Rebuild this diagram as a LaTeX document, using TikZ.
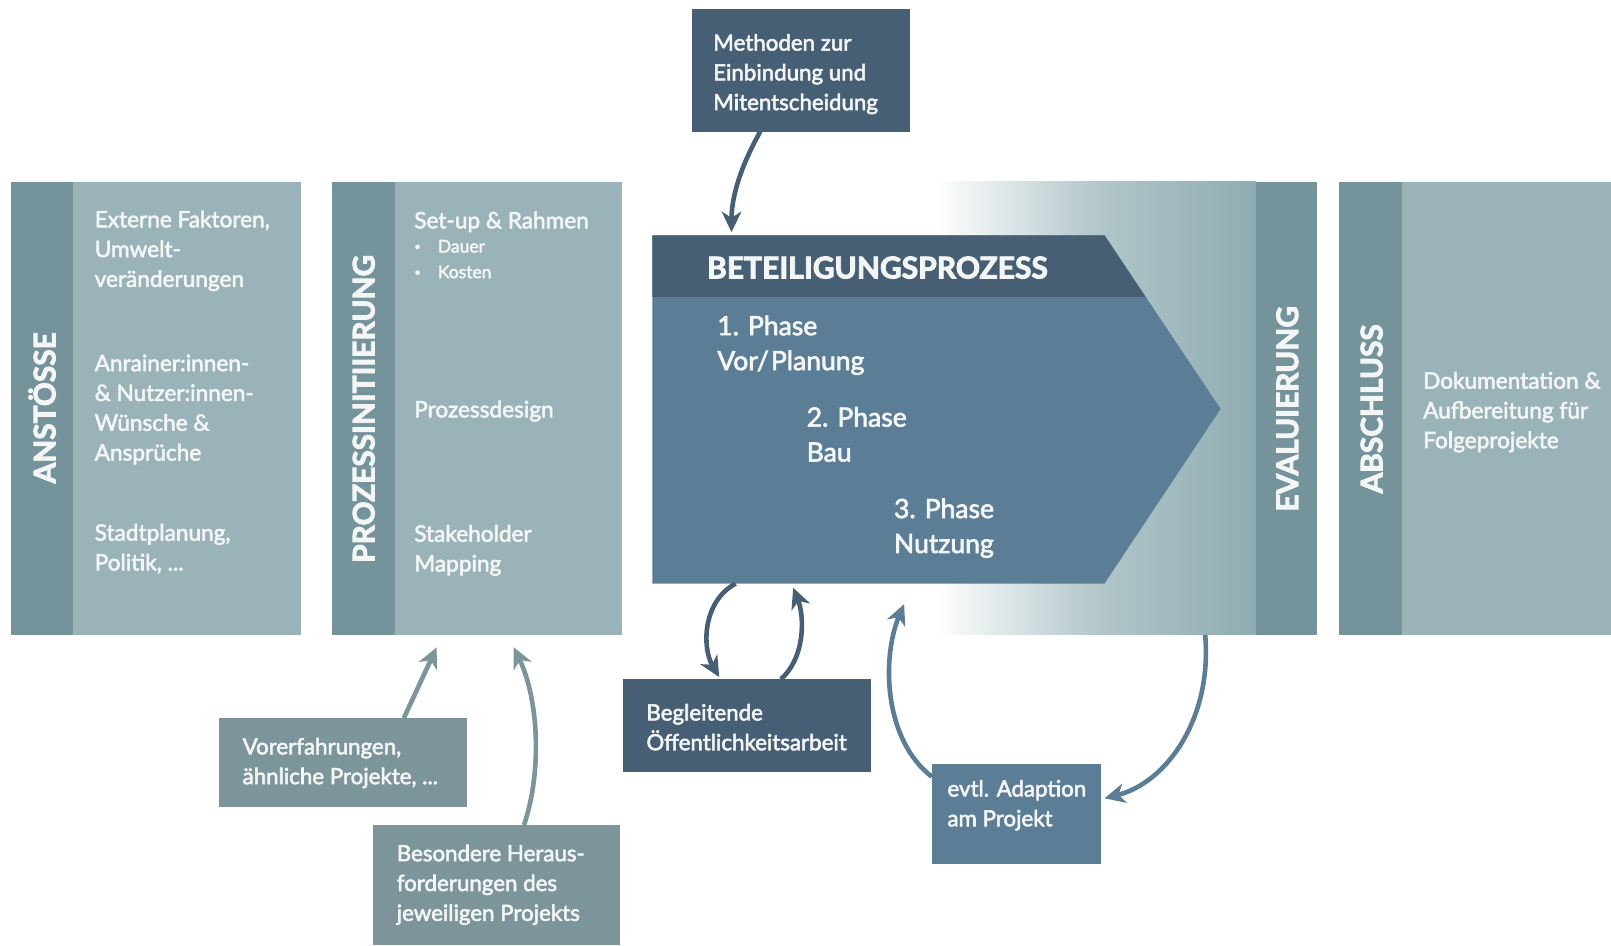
\documentclass[tikz,border=0pt]{standalone}
\usepackage{fontspec}
\setmainfont{Lato}[UprightFeatures={FakeBold=2.5}, BoldFeatures={FakeBold=3}]
\usetikzlibrary{arrows.meta}

\definecolor{panel}{HTML}{9AB3B9}
\definecolor{strip}{HTML}{74939B}
\definecolor{navy}{HTML}{465F75}
\definecolor{steel}{HTML}{5B7E96}
\definecolor{slate}{HTML}{7B959A}
\definecolor{fadeend}{HTML}{8EACB1}
\definecolor{fademid}{HTML}{B3C7CA}
\definecolor{ink}{HTML}{F4F6F6}

% white -> teal fade behind the process arrow (TikZ maps the path onto 25bp..75bp)
\pgfdeclarehorizontalshading{evalfade}{100bp}{color(0bp)=(white); color(25bp)=(white); color(50bp)=(fademid); color(75bp)=(fadeend); color(100bp)=(fadeend)}

\begin{document}
\begin{tikzpicture}[x=1pt, y=-1pt,
  block/.style={anchor=north west, inner sep=0pt, outer sep=0pt},
  bodytext/.style={anchor=north west, inner sep=0pt, align=left, text=ink, font=\fontsize{22}{29}\selectfont},
  boxtext/.style={anchor=north west, inner sep=0pt, align=left, text=ink, font=\fontsize{21.7}{29}\selectfont},
  smalltext/.style={anchor=north west, inner sep=0pt, align=left, text=ink, font=\fontsize{17}{25}\selectfont},
  phasetext/.style={anchor=north west, inner sep=0pt, align=left, text=ink, font=\fontsize{25.8}{34}\selectfont},
  vlabel/.style={rotate=90, inner sep=0pt, text=ink, font=\bfseries\fontsize{29}{30}\selectfont},
  conn/.style={line width=4.5pt, -{Stealth[length=20pt,width=19pt,inset=6pt]}},
]
\useasboundingbox (0,0) rectangle (1568,920);

% ---------- Anstoesse ----------
\node[block, fill=panel, minimum width=282, minimum height=441] (anst) at (11,177) {};
\node[block, fill=strip, minimum width=60, minimum height=441] (anststrip) at (11,177) {};
\node[vlabel] (anstlabel) at (41,397) {ANSTÖSSE};
\node[bodytext] (anstA) at (92,200.7) {\strut Externe Faktoren,\\Umwelt-\\veränderungen};
\node[bodytext] (anstB) at (92,340.7) {\strut Anrainer:innen-\\\& Nutzer:innen-\\Wünsche \&\\Ansprüche};
\node[bodytext] (anstC) at (92,505.7) {\strut Stadtplanung,\\Politik, ...};

% ---------- Prozessinitiierung ----------
\node[block, fill=panel, minimum width=282, minimum height=441] (init) at (323,177) {};
\node[block, fill=strip, minimum width=61, minimum height=441] (initstrip) at (323,177) {};
\node[vlabel] (initlabel) at (354,398) {PROZESSINITIIERUNG};
\node[bodytext] (initA) at (403,201.7) {\strut Set-up \& Rahmen};
\node[smalltext] (initB) at (403,228) {\strut\makebox[23pt][l]{\fontsize{11}{11}\selectfont\raisebox{2pt}{•}}Dauer\\\makebox[23pt][l]{\fontsize{11}{11}\selectfont\raisebox{2pt}{•}}Kosten};
\node[bodytext] (initC) at (403,385.7) {\strut Prozessdesign};
\node[bodytext] (initD) at (403,506.7) {\strut Stakeholder\\Mapping};

% ---------- Evaluierung zone with fade ----------
\shade[shading=evalfade] (910,177) rectangle (1222,618);
\node[block, minimum width=372, minimum height=441] (evalzone) at (910,177) {};
\node[block, fill=strip, minimum width=60, minimum height=441] (eval) at (1222,177) {};
\node[vlabel] (evallabel) at (1253,398) {EVALUIERUNG};

% ---------- Abschluss ----------
\node[block, fill=panel, minimum width=265, minimum height=441] (absch) at (1303,177) {};
\node[block, fill=strip, minimum width=62, minimum height=441] (abschstrip) at (1303,177) {};
\node[vlabel] (abschlabel) at (1335,398) {ABSCHLUSS};
\node[bodytext] (abschA) at (1385,357.7) {\strut Dokumentation \&\\Aufbereitung für\\Folgeprojekte};

% ---------- Beteiligungsprozess arrow ----------
\node[block, minimum width=553, minimum height=339] (bp) at (635,229) {};
\fill[steel] (635,229) -- (1075,229) -- (1188,398) -- (1075,568) -- (635,568) -- cycle;
\fill[navy] (635,229) -- (1075,229) -- (1115,289) -- (635,289) -- cycle;
\node[anchor=base west, inner sep=0pt, text=ink, font=\bfseries\fontsize{29.2}{31}\selectfont] (bptitle) at (688,271) {BETEILIGUNGSPROZESS};
\node[phasetext] (ph1) at (698,302.2) {\strut 1. Phase\\Vor/\kern2pt Planung};
\node[phasetext] (ph2) at (785,391.2) {\strut 2. Phase\\Bau};
\node[phasetext] (ph3) at (870,480.2) {\strut 3. Phase\\Nutzung};

% ---------- side boxes ----------
\node[block, fill=navy, minimum width=212, minimum height=119] (methoden) at (674,9) {};
\node[boxtext] (methodentext) at (694,28.7) {\strut Methoden zur\\Einbindung und\\Mitentscheidung};

\node[block, fill=navy, minimum width=242, minimum height=90] (begl) at (606,661) {};
\node[boxtext] (begltext) at (629,680.7) {\strut Begleitende\\Öffentlichkeitsarbeit};

\node[block, fill=slate, minimum width=242, minimum height=86] (vorerf) at (213,699) {};
\node[boxtext] (vorerftext) at (236,713.7) {\strut Vorerfahrungen,\\ähnliche Projekte, ...};

\node[block, fill=slate, minimum width=240, minimum height=117] (besond) at (363,803) {};
\node[boxtext] (besondtext) at (386,817.7) {\strut Besondere Heraus-\\forderungen des\\jeweiligen Projekts};

\node[block, fill=steel, minimum width=165, minimum height=97] (adapt) at (907,744) {};
\node[boxtext] (adapttext) at (922,754.7) {\strut evtl. Adaption\\am Projekt};

% ---------- connectors ----------
\draw[conn, navy] ([xshift=-40pt]methoden.south) .. controls (722,160) and (712,190) .. ([xshift=77pt,yshift=3pt]bp.north west);
\draw[conn, navy] ([xshift=81pt]bp.south west) .. controls (684,585) and (683,630) .. ([xshift=-27pt,yshift=2pt]begl.north);
\draw[conn, navy] ([xshift=33pt]begl.north) .. controls (784,640) and (783,600) .. ([xshift=137pt,yshift=-4pt]bp.south west);
\draw[conn, slate] ([xshift=59pt]vorerf.north) -- ([xshift=-39pt,yshift=-12pt]init.south);
\draw[conn, slate] ([xshift=27pt]besond.north) .. controls (528,750) and (524,680) .. ([xshift=36pt,yshift=-12pt]init.south);
\draw[conn, steel] ([yshift=-12pt]adapt.north west) .. controls (860,720) and (858,640) .. ([xshift=245pt,yshift=-20pt]bp.south west);
\draw[conn, steel] ([xshift=-79pt]eval.south) .. controls (1180,700) and (1135,762) .. ([xshift=3pt,yshift=-33pt]adapt.north east);
\end{tikzpicture}
\end{document}
